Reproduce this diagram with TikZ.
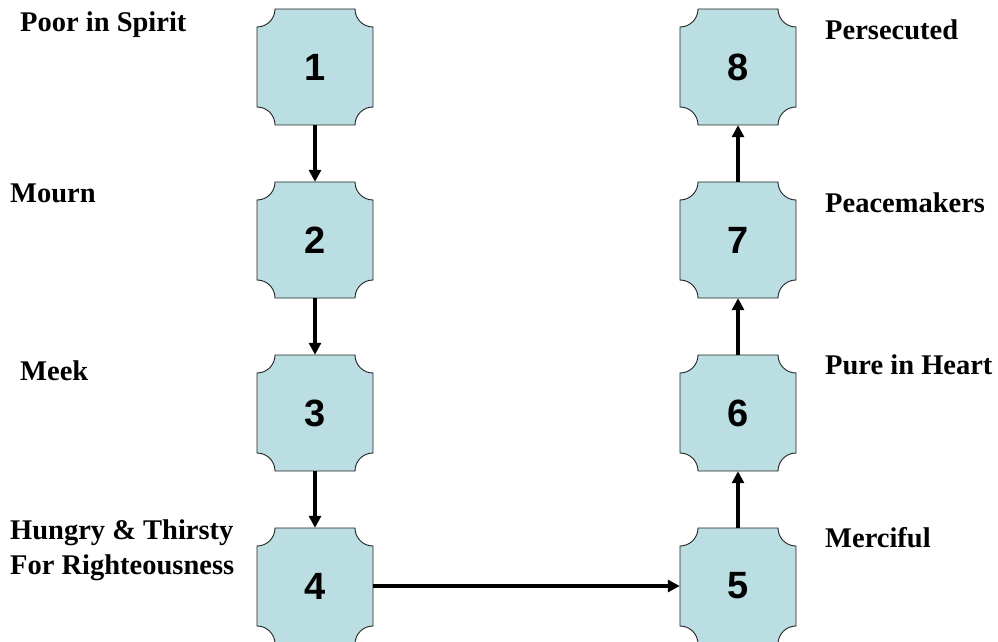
\documentclass[tikz,border=0pt]{standalone}
\usepackage{fontspec}
\setmainfont{Liberation Serif}
\newfontfamily\digitfont{Liberation Sans}
\usetikzlibrary{arrows.meta}
\definecolor{plaquefill}{RGB}{186,222,226}
\definecolor{plaqueline}{RGB}{35,35,35}
\tikzset{
  plaque/.pic={
    \filldraw[fill=plaquefill,draw=plaqueline,line width=0.9pt]
      (-40,58) -- (40,58) arc[start angle=180,end angle=270,radius=18pt]
      -- (58,-40) arc[start angle=90,end angle=180,radius=18pt]
      -- (-40,-58) arc[start angle=0,end angle=90,radius=18pt]
      -- (-58,40) arc[start angle=270,end angle=360,radius=18pt] -- cycle;
  },
  num/.style={minimum size=116pt,inner sep=0pt,font=\digitfont\bfseries\fontsize{38}{40}\selectfont},
  blessing/.style={font=\bfseries\fontsize{28.5}{35}\selectfont,inner sep=0pt,align=left},
  flow/.style={line width=3.6pt,-{Triangle[length=12pt,width=12pt]}}
}
\begin{document}
\begin{tikzpicture}[x=1pt,y=1pt]
		\useasboundingbox (0,0) rectangle (998,641);

		% the eight boxes
		\foreach \n/\x/\y in {1/315/574, 2/315/401, 3/315/228, 4/315/55,
		                      5/738/55, 6/738/228, 7/738/401, 8/738/574} {
			\pic at (\x,\y) {plaque};
			\node[num] (b\n) at (\x,\y) {\n};
		}

		% down the left, across, up the right
		\draw[flow] (b1.south) -- (b2.north);
		\draw[flow] (b2.south) -- (b3.north);
		\draw[flow] (b3.south) -- (b4.north);
		\draw[flow] (b4.east) -- (b5.west);
		\draw[flow] (b5.north) -- (b6.south);
		\draw[flow] (b6.north) -- (b7.south);
		\draw[flow] (b7.north) -- (b8.south);

		% names
		\node[blessing,anchor=west] (poor) at (20,616) {Poor in Spirit};
		\node[blessing,anchor=west] (mourn) at (10,448) {Mourn};
		\node[blessing,anchor=west] (meek) at (20,270) {Meek};
		\node[blessing,anchor=west] (hungry) at (10,91) {Hungry \& Thirsty\\For Righteousness};
		\node[blessing,anchor=west] (merciful) at (825,103) {Merciful};
		\node[blessing,anchor=west] (pure) at (825,276) {Pure in Heart};
		\node[blessing,anchor=west] (peace) at (825,438) {Peacemakers};
		\node[blessing,anchor=west] (persecuted) at (825,611) {Persecuted};
	\end{tikzpicture}
\end{document}
